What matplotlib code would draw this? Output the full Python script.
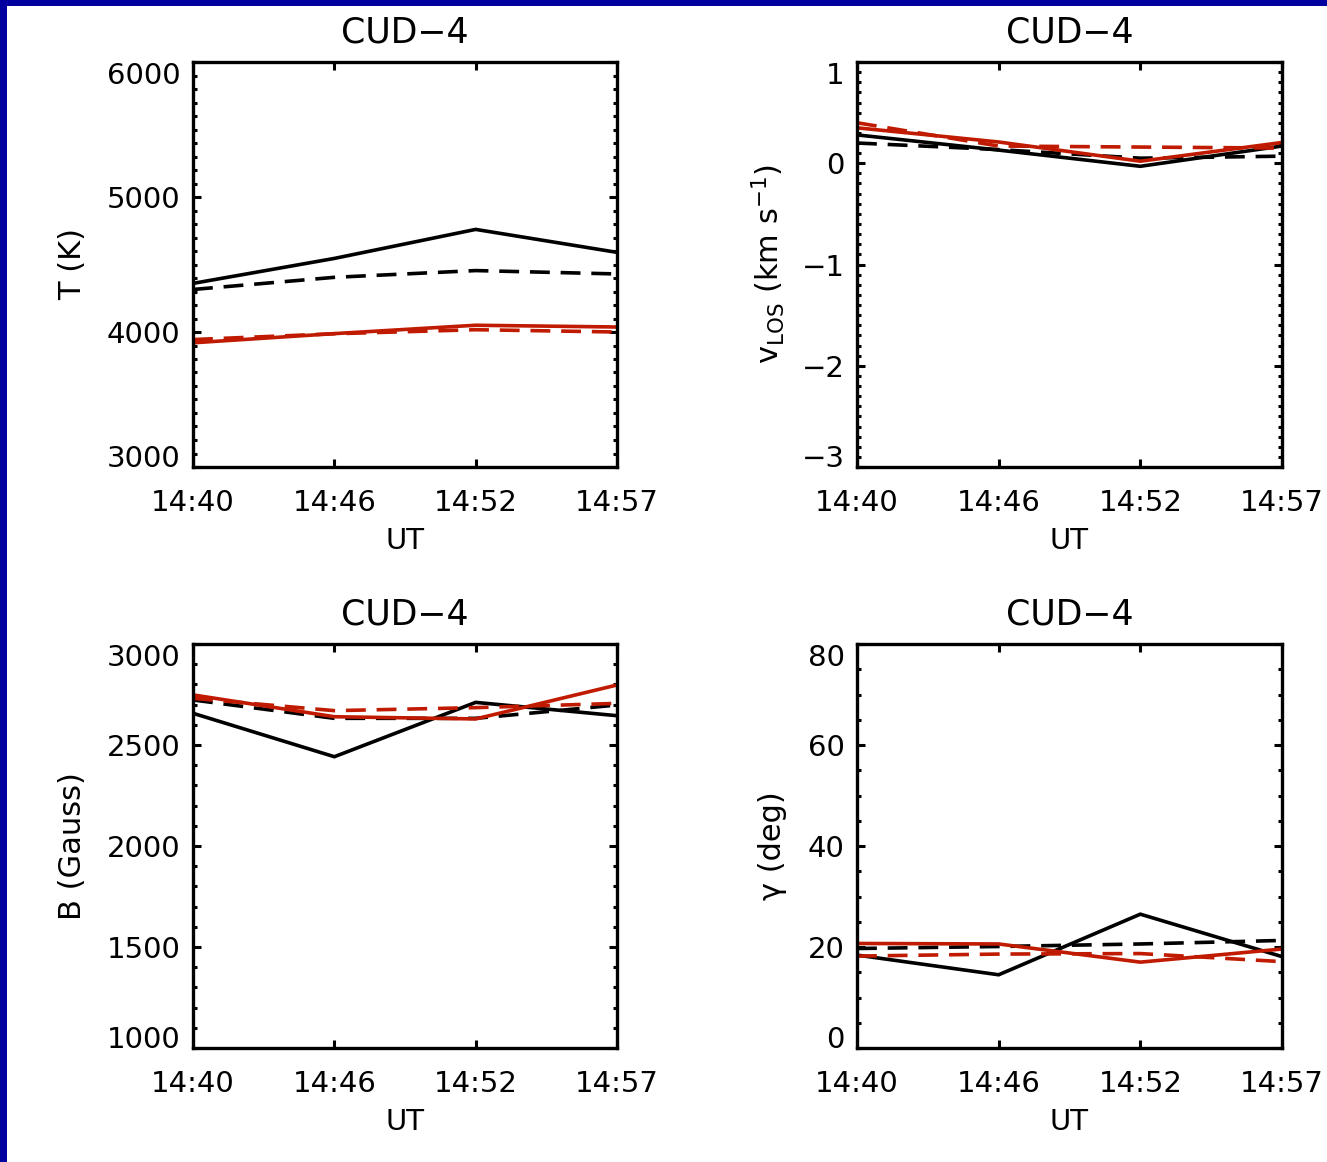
import matplotlib
matplotlib.use("Agg")
import matplotlib.pyplot as plt
from matplotlib.patches import Rectangle
from matplotlib.ticker import FixedLocator, MultipleLocator

plt.rcParams['font.family'] = ['DejaVu Sans']
plt.rcParams['mathtext.default'] = 'regular'

# ---- data ----
times = ["14:40", "14:46", "14:52", "14:57"]
title = "CUD\u22124"

T_black_solid = [4360, 4545, 4760, 4590]
T_black_dash = [4315, 4405, 4455, 4430]
T_red_solid = [3920, 3988, 4050, 4037]
T_red_dash = [3944, 3987, 4017, 4000]

V_black_solid = [0.28, 0.13, -0.03, 0.17]
V_black_dash = [0.20, 0.135, 0.05, 0.07]
V_red_solid = [0.35, 0.21, 0.02, 0.205]
V_red_dash = [0.40, 0.17, 0.16, 0.15]

B_black_solid = [2657, 2442, 2711, 2645]
B_black_dash = [2723, 2632, 2632, 2698]
B_red_solid = [2748, 2640, 2629, 2797]
B_red_dash = [2731, 2670, 2685, 2706]

G_black_solid = [18.4, 14.5, 26.5, 18.1]
G_black_dash = [19.7, 20.1, 20.6, 21.3]
G_red_solid = [20.7, 20.6, 17.0, 19.6]
G_red_dash = [18.2, 18.6, 18.7, 17.1]

panels = [
    dict(series=(T_black_solid, T_black_dash, T_red_solid, T_red_dash),
         ylim=(3000, 6000), major=1000, minor=100, ylabel="T (K)"),
    dict(series=(V_black_solid, V_black_dash, V_red_solid, V_red_dash),
         ylim=(-3, 1), major=1, minor=0.1, ylabel=r"v$_{LOS}$ (km s$^{-1}$)"),
    dict(series=(B_black_solid, B_black_dash, B_red_solid, B_red_dash),
         ylim=(1000, 3000), major=500, minor=100, ylabel="B (Gauss)"),
    dict(series=(G_black_solid, G_black_dash, G_red_solid, G_red_dash),
         ylim=(0, 80), major=20, minor=5, ylabel="\u03b3 (deg)"),
]

W, H = 1327, 1162
fig = plt.figure(figsize=(W / 100, H / 100), dpi=100)
fig.patch.set_facecolor("white")

RED = "#c01a00"
LW = 2.6
DASH = (5.5, 3.0)

boxes = [(193, 62, 617, 467), (857, 62, 1282, 467),
         (193, 644, 617, 1048), (857, 644, 1282, 1048)]
label_x = [-0.25, -0.165, -0.25, -0.165]

axes = []
for p, (x0, y0, x1, y1), lx in zip(panels, boxes, label_x):
    ax = fig.add_axes([x0 / W, 1 - y1 / H, (x1 - x0) / W, (y1 - y0) / H])
    xs = list(range(len(times)))
    bs, bd, rs, rd = p["series"]
    ax.plot(xs, bs, color="black", lw=LW, solid_joinstyle="miter")
    ax.plot(xs, bd, color="black", lw=LW, dashes=DASH)
    ax.plot(xs, rs, color=RED, lw=LW, solid_joinstyle="miter")
    ax.plot(xs, rd, color=RED, lw=LW, dashes=DASH)
    ax.set_xlim(0, len(times) - 1)
    ax.set_ylim(*p["ylim"])
    ax.xaxis.set_major_locator(FixedLocator(xs))
    ax.set_xticklabels(times)
    ax.yaxis.set_major_locator(MultipleLocator(p["major"]))
    ax.yaxis.set_minor_locator(MultipleLocator(p["minor"]))
    for s in ax.spines.values():
        s.set_linewidth(2.4)
    ax.tick_params(axis="both", which="both", direction="in", top=True, right=True,
                   width=2.2, labelsize=21)
    ax.tick_params(axis="y", which="major", length=6, pad=9)
    ax.tick_params(axis="y", which="minor", length=3)
    ax.tick_params(axis="x", which="major", length=5.5, pad=16)
    ax.set_title(title, fontsize=25, pad=14)
    ax.set_xlabel("UT", fontsize=21, labelpad=7)
    ax.set_ylabel(p["ylabel"], fontsize=22)
    ax.yaxis.set_label_coords(lx, 0.5)
    axes.append(ax)

# blue frame on top and left edges
fig.patches.append(Rectangle((0, 1 - 6 / H), 1, 6 / H, transform=fig.transFigure,
                             facecolor="#0000a0", edgecolor="none", zorder=10))
fig.patches.append(Rectangle((0, 0), 7 / W, 1, transform=fig.transFigure,
                             facecolor="#0000a0", edgecolor="none", zorder=10))

fig.canvas.draw()
for ax in axes:
    ticks = [t for t in ax.yaxis.get_major_ticks()]
    lo, hi = ax.get_ylim()
    locs = ax.yaxis.get_majorticklocs()
    for t, loc in zip(ticks, locs):
        if abs(loc - lo) < 1e-9:
            t.label1.set_va("baseline")
        elif abs(loc - hi) < 1e-9:
            t.label1.set_va("top")

fig.savefig("out.png", dpi=100)
